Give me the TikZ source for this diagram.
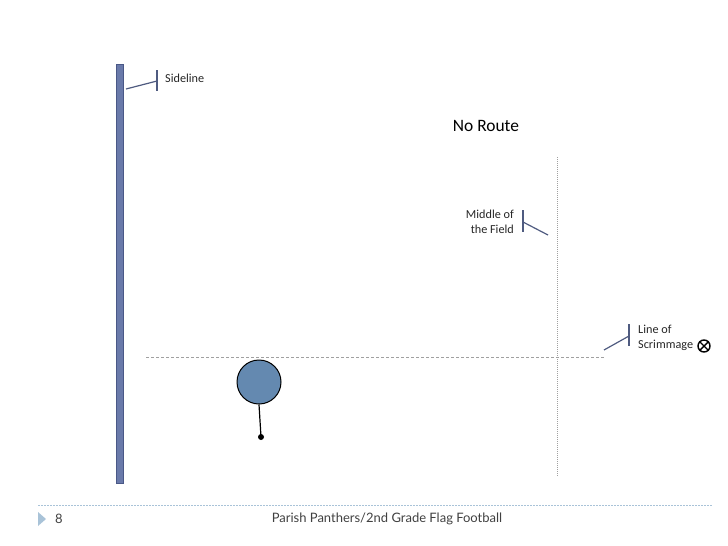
\documentclass[tikz,border=0pt]{standalone}
\usepackage{fontspec}
\setmainfont{Carlito}
\newfontfamily\footfont{Lato}
\definecolor{barfill}{HTML}{6A7AAA}
\definecolor{bardraw}{HTML}{4A5887}
\definecolor{callout}{HTML}{4F5B80}
\definecolor{playerfill}{HTML}{6489B0}
\definecolor{gridgray}{HTML}{A0A0A0}
\definecolor{footblue}{HTML}{A9C3D8}
\definecolor{foottext}{HTML}{404040}
\tikzset{
  calloutline/.style={draw=callout, line width=1.2pt},
  lbl/.style={font=\fontsize{12.2}{15.5}\selectfont, inner sep=0pt, text=black!85},
  fieldline/.style={draw=gridgray, line width=1pt, dash pattern=on 3pt off 2pt},
}
\begin{document}
\begin{tikzpicture}[x=1pt,y=-1pt]
\useasboundingbox (0,0) rectangle (728,546);
% sideline bar
\node[draw=bardraw, fill=barfill, line width=0.8pt, minimum width=7pt, minimum height=419pt, inner sep=0pt] (bar) at (119.5,273.5) {};
% sideline callout
\node[lbl, anchor=west] (sidelbl) at (165,78) {Sideline};
\coordinate (sa) at (126,89);
\coordinate (sb) at (157,81);
\draw[calloutline] (sa) -- (sb);
\draw[calloutline] (157,70) -- (157,91);
% title
\node[font=\fontsize{17.4}{20}\selectfont, inner sep=0pt] (title) at (486,126) {No Route};
% middle of the field
\coordinate (mtop) at (557,157);
\coordinate (mbot) at (557,477);
\draw[draw=gridgray, line width=1pt, dash pattern=on 1pt off 1pt] (mtop) -- (mbot);
\node[lbl, align=right, anchor=east] (midlbl) at (514,222) {Middle of\\ the Field};
\coordinate (ma) at (548,235);
\coordinate (mb) at (523,222);
\draw[calloutline] (ma) -- (mb);
\draw[calloutline] (523,210) -- (523,232);
% line of scrimmage
\coordinate (los1) at (146,357);
\coordinate (los2) at (605,357);
\draw[fieldline] (los1) -- (los2);
\coordinate (la) at (604,350);
\coordinate (lb) at (629,336);
\draw[calloutline] (la) -- (lb);
\draw[calloutline] (629,324) -- (629,346);
\node[lbl, align=left, anchor=west] (loslbl) at (638,338) {Line of\\Scrimmage};
% center symbol
\node[draw=black, line width=1.4pt, circle, minimum size=12pt, inner sep=0pt] (ctr) at (704,346) {};
\draw[line width=1.4pt] (ctr.north west) -- (ctr.south east);
\draw[line width=1.4pt] (ctr.north east) -- (ctr.south west);
% player
\node[draw=black, fill=playerfill, line width=1pt, circle, minimum size=44pt, inner sep=0pt] (player) at (259,382) {};
\node[fill=black, circle, minimum size=6pt, inner sep=0pt] (dot) at (261,437) {};
\draw[line width=1.2pt] (player.south) -- (dot.center);
% footer
\coordinate (f1) at (38,505);
\coordinate (f2) at (712,505);
\draw[draw=footblue, line width=0.8pt, dash pattern=on 1.5pt off 1.5pt] (f1) -- (f2);
\fill[footblue] (38,512) -- (46,519) -- (38,526) -- cycle;
\node[font=\footfont\fontsize{13}{15}\selectfont, text=foottext, anchor=west, inner sep=0pt] (pnum) at (55,519) {8};
\node[font=\footfont\fontsize{13}{15}\selectfont, text=foottext, inner sep=0pt] (foot) at (387,519) {Parish Panthers/2nd Grade Flag Football};
\end{tikzpicture}
\end{document}
